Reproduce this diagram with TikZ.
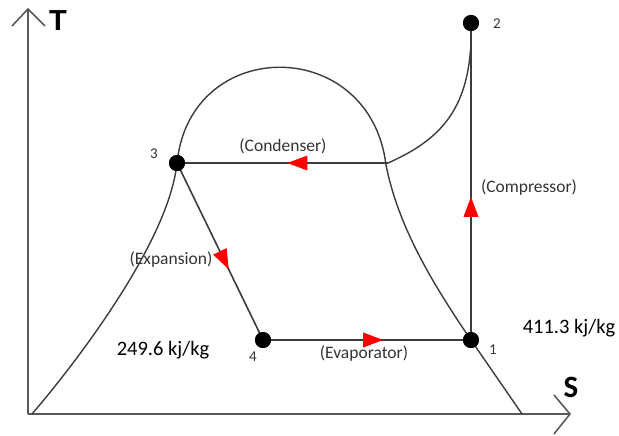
\documentclass[tikz,border=0pt]{standalone}
\usepackage{fontspec}
\setmainfont{Carlito}
\newfontfamily\axisfont{Liberation Sans}
\usetikzlibrary{decorations.markings}
\definecolor{linegray}{HTML}{3C3C3C}
\definecolor{labelgray}{HTML}{333333}
\tikzset{
  dot/.style={circle, fill=black, inner sep=0pt, minimum size=16pt},
  cycleline/.style={draw=linegray, line width=1.6pt},
  domeline/.style={draw=linegray, line width=1.4pt},
  axisline/.style={draw=linegray!85, line width=1.6pt},
  redmark/.style={postaction={decorate}, decoration={markings,
      mark=at position #1 with {\fill[red] (10pt,0pt) -- (-10pt,7.5pt) -- (-10pt,-7.5pt) -- cycle;}}},
  ptlabel/.style={text=labelgray, font=\fontsize{15}{18}\selectfont},
  proclabel/.style={text=labelgray, font=\fontsize{17.5}{21}\selectfont},
  enthlabel/.style={text=black, font=\fontsize{20.5}{24}\selectfont},
}
\begin{document}
\begin{tikzpicture}[x=1pt, y=-1pt]
\useasboundingbox (0,0) rectangle (619,436);
% axes
\coordinate (origin) at (28,414);
\coordinate (ttip) at (28,9);
\coordinate (stip) at (570,414);
\draw[axisline] (origin) -- (ttip);
\draw[axisline] (12,26) -- (ttip) -- (45,26);
\draw[axisline] (origin) -- (stip);
\draw[axisline] (554,395) -- (stip) -- (554,434);
\node[font=\axisfont\bfseries\fontsize{29}{32}\selectfont] (tlab) at (58,21) {T};
\node[font=\bfseries\fontsize{31}{34}\selectfont] (slab) at (571,387) {S};
% cycle points
\node[dot] (p2) at (471,23) {};
\node[dot] (p3) at (177,163) {};
\node[dot] (p4) at (263,340) {};
\node[dot] (p1) at (471,340) {};
\coordinate (c2) at (471,42);
\coordinate (cc) at (388,163);
\coordinate (domeL) at (32,414);
\coordinate (domeR) at (386,165);
\coordinate (domeB) at (522,414);
% saturation dome
\draw[domeline] (domeL) .. controls (80,358) and (169,240) .. (p3.center)
  .. controls (190,35) and (370,35) .. (domeR)
  .. controls (398,225) and (430,280) .. (p1.center) -- (domeB);
% superheat curve
\draw[domeline] (c2) .. controls (468,110) and (440,140) .. (cc);
% processes
\draw[cycleline, redmark=0.42] (p1.center) -- (p2.center);
\draw[cycleline, redmark=0.43] (cc) -- (p3.center);
\draw[cycleline, redmark=0.55] (p3.center) -- (p4.center);
\draw[cycleline, redmark=0.53] (p4.center) -- (p1.center);
\node[dot] at (p2) {};
\node[dot] at (p3) {};
\node[dot] at (p4) {};
\node[dot] at (p1) {};
% labels
\node[ptlabel] (l2) at (497,24) {2};
\node[ptlabel] (l3) at (154,154) {3};
\node[ptlabel] (l4) at (253,357) {4};
\node[ptlabel] (l1) at (493,350) {1};
\node[proclabel] (lcond) at (283,146) {(Condenser)};
\node[proclabel] (lcomp) at (529,188) {(Compressor)};
\node[proclabel] (lexp) at (171,260) {(Expansion)};
\node[proclabel] (levap) at (364,354) {(Evaporator)};
\node[enthlabel] (h4) at (163,350) {249.6 kj/kg};
\node[enthlabel] (h1) at (569,328) {411.3 kj/kg};
\end{tikzpicture}
\end{document}
